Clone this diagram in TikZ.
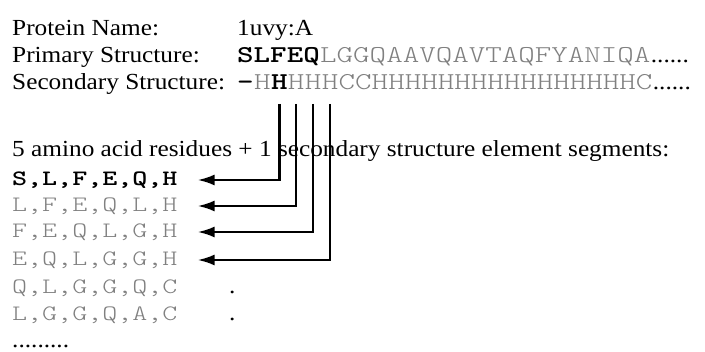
\documentclass[tikz,border=0pt]{standalone}
\usepackage{fontspec}
\setmainfont{Liberation Serif}[FakeStretch=1.1]
\newfontfamily\seqfont{lmmonolt10-regular.otf}[FakeStretch=1.3, BoldFont=lmmonolt10-bold.otf]
\usepackage{tikz}
\usetikzlibrary{
	positioning,
	arrows.meta
}
\definecolor{seqgray}{gray}{0.5}

\begin{document}
\begin{tikzpicture}[
		x=1pt, y=-1pt,
		field/.style={anchor=base west, inner sep=0pt, font=\fontsize{23}{28}\selectfont},
		seq/.style={anchor=base west, inner sep=0pt, text=seqgray, font=\fontsize{24.2}{29}\seqfont},
		hit/.style={seq, text=black, font=\fontsize{24.2}{29}\seqfont\bfseries},
		segrow/.style={anchor=base west, inner sep=0pt, text height=14pt, text depth=2pt, text=seqgray, font=\fontsize{22}{26}\seqfont},
		segbold/.style={segrow, text=black, font=\fontsize{22}{26}\seqfont\bfseries},
		pointer/.style={line width=2.5pt, -{Latex[length=17pt, width=11pt]}}
	]
	\useasboundingbox (0,0) rectangle (705,352);

	% 标题
	\node[field] (name) at (12,36) {Protein Name:};
	\node[field] (prim) at (12,63) {Primary Structure:};
	\node[field] (sec)  at (12,90) {Secondary Structure:};
	\node[field] (pid)  at (237,36) {1uvy:A};

	% 一级结构
	\node[hit]   (pbold) at (237,63) {SLFEQ};
	\node[seq]   (prest) at (pbold.base east) {LGGQAAVQAVTAQFYANIQA};
	\node[field] (pdots) at (prest.base east) {......};

	% 二级结构
	\node[hit]   (h0) at (237,90) {-};
	\node[seq]   (h1) at (h0.base east) {H};
	\node[hit]   (h2) at (h1.base east) {H};
	\node[seq]   (h3) at (h2.base east) {H};
	\node[seq]   (h4) at (h3.base east) {H};
	\node[seq]   (h5) at (h4.base east) {H};
	\node[seq]   (hrest) at (h5.base east) {CCHHHHHHHHHHHHHHHHC};
	\node[field] (sdots) at (hrest.base east) {......};

	% 片段
	\node[field] (segs) at (12,157) {5 amino acid residues + 1 secondary structure element segments:};
	\node[segbold] (r1) at (12,186) {S,L,F,E,Q,H};
	\node[segrow]  (r2) at (12,212) {L,F,E,Q,L,H};
	\node[segrow]  (r3) at (12,238) {F,E,Q,L,G,H};
	\node[segrow]  (r4) at (12,266) {E,Q,L,G,G,H};
	\node[segrow]  (r5) at (12,294) {Q,L,G,G,Q,C};
	\node[segrow]  (r6) at (12,321) {L,G,G,Q,A,C};
	\node[field]   (d5) at (229,294) {.};
	\node[field]   (d6) at (229,321) {.};
	\node[field]   (more) at (12,348) {.........};

	% 箭头
	\draw[pointer] (h2.base) ++(0,14) |- ([xshift=20pt]r1.east);
	\draw[pointer] (h3.base) ++(0,14) |- ([xshift=20pt]r2.east);
	\draw[pointer] (h4.base) ++(0,14) |- ([xshift=20pt]r3.east);
	\draw[pointer] (h5.base) ++(0,14) |- ([xshift=20pt]r4.east);
\end{tikzpicture}
\end{document}
